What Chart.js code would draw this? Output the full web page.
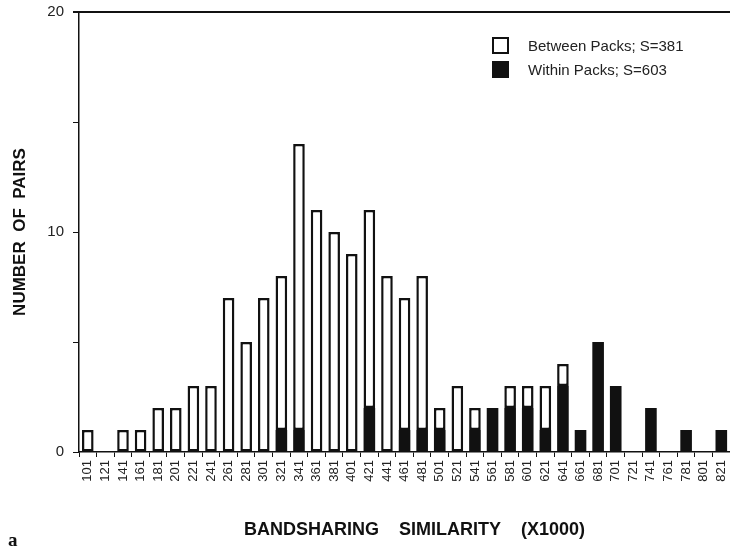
<!DOCTYPE html>
<html>
<head>
<meta charset="utf-8">
<script src="https://cdn.jsdelivr.net/npm/chart.js@4"></script>
<style>
  html, body { margin: 0; padding: 0; background: #fff; overflow: hidden; }
  #wrap { position: relative; width: 740px; height: 546px; }
  #legend { position: absolute; left: 492px; top: 33px; font-family: "Liberation Sans", Arial, sans-serif; font-size: 15px; color: #222; }
  .item { display: flex; align-items: center; height: 24px; }
  .box { width: 13px; height: 13px; border: 2px solid #111; margin-right: 19px; box-sizing: content-box; }
  #panel { position: absolute; left: 8px; top: 529px; font-family: "Liberation Serif", serif; font-weight: bold; font-size: 19px; color: #111; }
</style>
</head>
<body>
<div id="wrap">
  <canvas id="Chart" width="740" height="546"></canvas>
  <div id="legend"></div>
  <div id="panel">a</div>
</div>
<script>
let labels = ['101','121','141','161','181','201','221','241','261','281','301','321','341','361','381','401','421','441','461','481','501','521','541','561','581','601','621','641','661','681','701','721','741','761','781','801','821'];

// pairs within packs (black part of each bar)
let withinPacks = [0,0,0,0,0,0,0,0,0,0,0,1,1,0,0,0,2,0,1,1,1,0,1,2,2,2,1,3,1,5,3,0,2,0,1,0,1];

// pairs between packs (white part, stacked on top)
let betweenPacks = [1,0,1,1,2,2,3,3,7,5,7,7,13,11,10,9,9,8,6,7,1,3,1,0,1,1,2,1,0,0,0,0,0,0,0,0,0];

let legendNames = ['Between Packs; S=381', 'Within Packs; S=603'];
let yTickLabels = [0, 10, 20];

let graph = document.getElementById('Chart');

let topLine = {
    id: 'topLine',
    afterDraw(chart) {
        let ctx = chart.ctx;
        let a = chart.chartArea;
        ctx.save();
        ctx.strokeStyle = '#111';
        ctx.lineWidth = 2;
        ctx.beginPath();
        ctx.moveTo(a.left - 6, a.top);
        ctx.lineTo(chart.width, a.top);
        ctx.stroke();
        ctx.restore();
    }
};

let chartdtl = {
    type: 'bar',
    data: {
        labels: labels,
        datasets: [{
            label: legendNames[1],
            data: withinPacks,
            backgroundColor: '#111',
            borderColor: '#111',
            borderWidth: 0,
            barPercentage: 0.66,
            categoryPercentage: 1,
        }, {
            label: legendNames[0],
            data: betweenPacks,
            backgroundColor: '#fff',
            borderColor: '#111',
            borderWidth: 2.5,
            borderSkipped: false,
            barPercentage: 0.66,
            categoryPercentage: 1,
        }],
    },
    options: {
        responsive: false,
        animation: false,
        layout: { padding: { top: 12, right: 7, left: 0, bottom: 0 } },
        plugins: { legend: { display: false }, tooltip: { enabled: false } },
        scales: {
            x: {
                stacked: true,
                afterFit(scale) { scale.height = 94; },
                grid: { drawOnChartArea: false, tickLength: 5, color: '#111', lineWidth: 1 },
                border: { color: '#111', width: 1.5 },
                ticks: {
                    color: '#222',
                    font: { family: 'Liberation Sans', size: 13 },
                    minRotation: 90,
                    maxRotation: 90,
                    autoSkip: false,
                    padding: 3,
                },
                title: {
                    display: true,
                    text: '    BANDSHARING    SIMILARITY    (X1000)',
                    color: '#111',
                    font: { family: 'Liberation Sans', size: 18, weight: 'bold' },
                    padding: { top: 0, bottom: 5 },
                },
            },
            y: {
                stacked: true,
                min: 0,
                max: 20,
                afterFit(scale) {
                    scale.width = 79;
                    scale.paddingTop = 0;
                    scale.paddingBottom = 0;
                },
                grid: { drawOnChartArea: false, tickLength: 6, color: '#111', lineWidth: 1 },
                border: { color: '#111', width: 1.5 },
                ticks: {
                    stepSize: 5,
                    color: '#222',
                    padding: 9,
                    font: { family: 'Liberation Sans', size: 15 },
                    callback: (v) => yTickLabels.includes(v) ? String(v) : '',
                },
                title: {
                    display: true,
                    text: 'NUMBER  OF  PAIRS',
                    color: '#111',
                    font: { family: 'Liberation Sans', size: 17, weight: 'bold' },
                    padding: { top: 10, bottom: 0 },
                },
            },
        },
    },
    plugins: [topLine],
};

let presentdata = new Chart(graph, chartdtl);

// legend, between first
let leg = document.getElementById('legend');
[presentdata.data.datasets[1], presentdata.data.datasets[0]].forEach(ds => {
    let row = document.createElement('div');
    row.className = 'item';
    let box = document.createElement('span');
    box.className = 'box';
    box.style.background = ds.backgroundColor;
    let txt = document.createElement('span');
    txt.textContent = ds.label;
    row.appendChild(box);
    row.appendChild(txt);
    leg.appendChild(row);
});
</script>
</body>
</html>
